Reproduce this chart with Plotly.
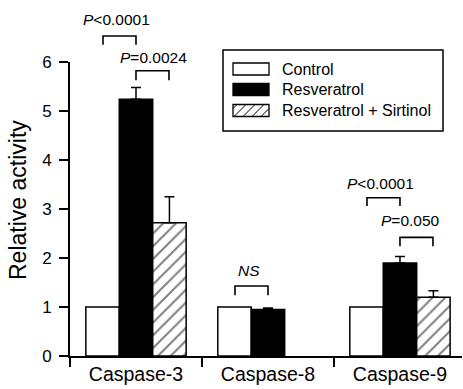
import plotly.graph_objects as go

categories = ["Caspase-3", "Caspase-8", "Caspase-9"]
control = [1.0, 1.0, 1.0]
resveratrol = [5.24, 0.95, 1.90]
resveratrol_err = [0.24, 0.03, 0.13]
res_sirtinol = [2.72, None, 1.20]
res_sirtinol_err = [0.53, 0, 0.13]
series_names = ["Control", "Resveratrol", "Resveratrol + Sirtinol"]
y_ticks = [0, 1, 2, 3, 4, 5, 6]

# significance annotations: (category index, bar a offset, bar b offset, bracket top, leg bottom, label, label x offset, label y)
sig = [
    (0, -0.25, 0.0, 6.53, 6.35, "<i>P</i>&lt;0.0001", -0.146, 6.86),
    (0, 0.0, 0.25, 5.82, 5.63, "<i>P</i>=0.0024", 0.133, 6.10),
    (1, -0.25, 0.0, 1.43, 1.24, "<i>NS</i>", -0.144, 1.74),
    (2, -0.25, 0.0, 3.23, 3.06, "<i>P</i>&lt;0.0001", -0.144, 3.53),
    (2, 0.0, 0.25, 2.42, 2.24, "<i>P</i>=0.050", 0.076, 2.76),
]

FONT = "Liberation Sans, Arial, Helvetica, sans-serif"
W, H = 463, 389
L, R, T, B = 70, 462, 62, 356
YMAX = 6.0

def px(xp):
    return (xp - L) / (R - L)

def py(yp):
    return (B - yp) / (B - T)

fig = go.Figure()
line = dict(color="black", width=1.5)
fig.add_trace(go.Bar(x=categories, y=control, name=series_names[0],
                     marker=dict(color="white", line=line)))
fig.add_trace(go.Bar(x=categories, y=resveratrol, name=series_names[1],
                     marker=dict(color="black", line=line),
                     error_y=dict(type="data", array=resveratrol_err,
                                  arrayminus=[0] * 3, symmetric=False,
                                  color="black", thickness=1.5, width=5)))
fig.add_trace(go.Bar(x=categories, y=res_sirtinol, name=series_names[2],
                     marker=dict(color="white", line=line,
                                 pattern=dict(shape="/", fgcolor="black",
                                              bgcolor="white", size=9,
                                              solidity=0.22)),
                     error_y=dict(type="data", array=res_sirtinol_err,
                                  arrayminus=[0] * 3, symmetric=False,
                                  color="black", thickness=1.5, width=5)))

shapes = []
annotations = []
for ci, a, b, top, leg, label, lx, ly in sig:
    x0, x1 = ci + a, ci + b
    shapes.append(dict(type="path", xref="x", yref="paper",
                       path=f"M {x0},{leg / YMAX} L {x0},{top / YMAX} L {x1},{top / YMAX} L {x1},{leg / YMAX}",
                       line=dict(color="black", width=1.6)))
    annotations.append(dict(x=ci + lx, y=ly / YMAX, xref="x", yref="paper", text=label,
                            showarrow=False, xanchor="center", yanchor="middle",
                            font=dict(size=15.5, color="black", family=FONT)))

# y-axis title
annotations.append(dict(x=px(18), y=py(200), xref="paper", yref="paper",
                        text="Relative activity", textangle=-90, showarrow=False,
                        xanchor="center", yanchor="middle",
                        font=dict(size=23, color="black", family=FONT)))

# legend (drawn manually)
shapes.append(dict(type="rect", xref="paper", yref="paper",
                   x0=px(223), x1=px(443), y0=py(131), y1=py(50),
                   line=dict(color="black", width=1.5), fillcolor="white"))
rows = [69, 89.5, 110.5]
fills = ["white", "black", "white"]
sx0, sx1 = 233, 269
for i, (cy, name) in enumerate(zip(rows, series_names)):
    y0p, y1p = cy + 6, cy - 6
    shapes.append(dict(type="rect", xref="paper", yref="paper",
                       x0=px(sx0), x1=px(sx1), y0=py(y0p), y1=py(y1p),
                       line=dict(color="black", width=1.3), fillcolor=fills[i]))
    if i == 2:
        h = y0p - y1p
        c = sx0 - h + 4
        while c < sx1:
            xa, ya = c, y0p
            xb, yb = c + h, y1p
            if xa < sx0:
                ya = y0p - (sx0 - xa)
                xa = sx0
            if xb > sx1:
                yb = y1p + (xb - sx1)
                xb = sx1
            if xb > xa:
                shapes.append(dict(type="line", xref="paper", yref="paper",
                                   x0=px(xa), y0=py(ya), x1=px(xb), y1=py(yb),
                                   line=dict(color="black", width=1)))
            c += 9
    annotations.append(dict(x=px(280), y=py(cy), xref="paper", yref="paper",
                            text=name, showarrow=False, xanchor="left",
                            yanchor="middle",
                            font=dict(size=16, color="black", family=FONT)))

fig.update_layout(
    width=W, height=H,
    margin=dict(l=L, r=W - R, t=T, b=H - B),
    paper_bgcolor="white", plot_bgcolor="white",
    barmode="group", bargap=0.24, bargroupgap=0,
    showlegend=False,
    font=dict(family=FONT, color="black"),
    shapes=shapes, annotations=annotations,
)
fig.update_xaxes(type="category", range=[-0.5, 2.47], showline=True,
                 linecolor="black", linewidth=2, ticks="outside",
                 tickson="boundaries", ticklen=9, tickwidth=1.5,
                 tickcolor="black", showgrid=False, zeroline=False,
                 tickfont=dict(size=19.5, family=FONT, color="black"))
fig.update_yaxes(range=[0, YMAX], tickvals=y_ticks, showline=True,
                 linecolor="black", linewidth=2, ticks="outside", ticklen=9,
                 tickwidth=1.5, tickcolor="black", showgrid=False,
                 zeroline=False, ticklabelstandoff=4,
                 tickfont=dict(size=17, family=FONT, color="black"))

fig.write_html("out.html", config={"displayModeBar": False})
with open("out.html", "r", encoding="utf-8") as f:
    html = f.read()
html = html.replace("<head>", "<head><style>html,body{margin:0;padding:0;overflow:hidden;}</style>", 1)
with open("out.html", "w", encoding="utf-8") as f:
    f.write(html)
